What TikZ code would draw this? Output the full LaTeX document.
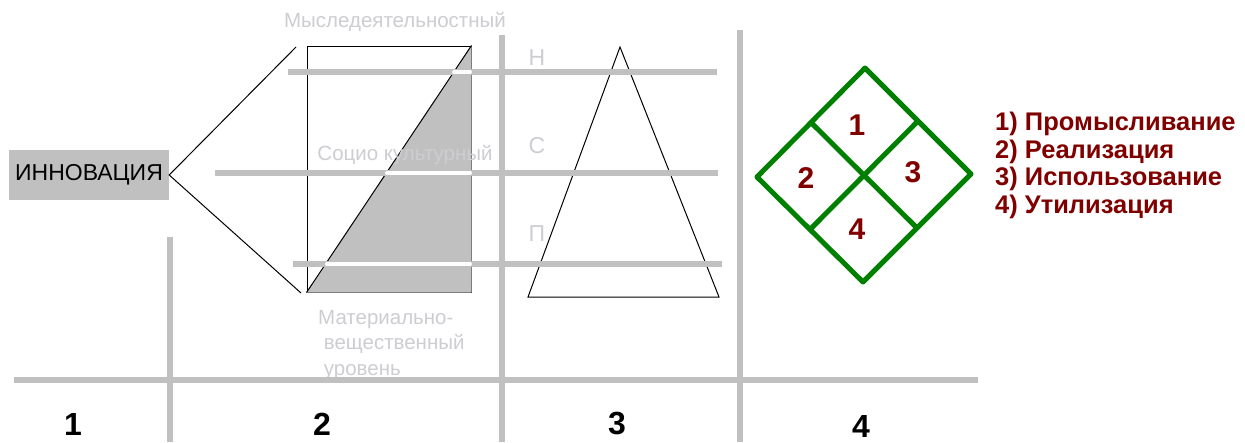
\documentclass[tikz,border=0pt]{standalone}
\usepackage{fontspec}
\setmainfont{Liberation Sans}
\usetikzlibrary{positioning,calc}
\definecolor{gridgray}{RGB}{192,192,192}
\definecolor{lblgray}{RGB}{205,205,210}
\definecolor{phgreen}{RGB}{0,128,0}
\definecolor{phred}{RGB}{128,0,0}
\tikzset{
  gline/.style={line width=6pt, gridgray},
  wline/.style={line width=4pt, white, line cap=round},
  bline/.style={black, line width=1pt},
  glbl/.style={text=lblgray, inner sep=0pt, font=\fontsize{20.5}{25.5}\selectfont},
  colnum/.style={inner sep=0pt, font=\bfseries\fontsize{32}{34}\selectfont},
  phnum/.style={inner sep=0pt, text=phred, font=\bfseries\fontsize{30}{32}\selectfont},
  dline/.style={phgreen, line width=5pt, line join=round},
}

\begin{document}
\begin{tikzpicture}[x=1pt, y=-1pt]
        \useasboundingbox[fill=white] (0,0) rectangle (1245,442);

        % column 1
        \node[fill=gridgray, minimum width=160pt, minimum height=50pt, inner sep=0pt,
              font=\fontsize{23}{24}\selectfont](inno) at (89,175){ИННОВАЦИЯ};

        % column 2
        \node[draw, line width=1pt, minimum width=164pt, minimum height=246pt, inner sep=0pt](lvl) at (389,169){};
        \fill[gridgray] (lvl.south west) -- (lvl.north east) -- (lvl.south east) -- cycle;
        \draw[bline] (lvl.south west) -- (lvl.north east);
        \coordinate (up) at (296,47);
        \coordinate (dn) at (301,293);
        \draw[bline] (up) -- (inno.east) -- (dn);

        \node[glbl](think) at (395,22){Мыследеятельностный};
        \node[glbl](socio) at (405,155){Социо культурный};
        \node[glbl, align=left, anchor=north west](mat) at (318,310){Материально-\\\ вещественный\\\ уровень};

        % column 3
        \coordinate (tA) at (620,47);
        \coordinate (tL) at (528,297);
        \coordinate (tR) at (719,297);
        \draw[bline] (tA) -- (tR) -- (tL) -- cycle;
        \node[glbl, font=\fontsize{23}{24}\selectfont](hN) at (537,58){Н};
        \node[glbl, font=\fontsize{23}{24}\selectfont](hS) at (537,146){С};
        \node[glbl, font=\fontsize{23}{24}\selectfont](hP) at (537,234){П};

        % grid
        \draw[gline] (288,72) -- (717,72);
        \draw[gline] (215,173) -- (718,173);
        \draw[gline] (293,264) -- (722,264);
        \draw[wline] (454,72) -- (470,72);
        \draw[wline] (387,173) -- (470,173);
        \draw[wline] (327,264) -- (470,264);
        \draw[gline] (14,380) -- (978,380);
        \draw[gline] (170,237) -- (170,442);
        \draw[gline] (502,35) -- (502,442);
        \draw[gline] (740,30) -- (740,442);

        \node[colnum](c1) at (73,424){1};
        \node[colnum](c2) at (322,424){2};
        \node[colnum](c3) at (617,424){3};
        \node[colnum](c4) at (861,426){4};

        % column 4
        \coordinate (dT) at (865,68);
        \coordinate (dR) at (971,174);
        \coordinate (dB) at (863,282);
        \coordinate (dL) at (757,177);
        \draw[dline] (dT) -- (dR) -- (dB) -- (dL) -- cycle;
        \draw[dline] ($(dT)!0.5!(dL)$) -- ($(dR)!0.5!(dB)$);
        \draw[dline] ($(dT)!0.5!(dR)$) -- ($(dL)!0.5!(dB)$);
        \node[phnum](p1) at (857,125){1};
        \node[phnum](p2) at (806,178){2};
        \node[phnum](p3) at (913,172){3};
        \node[phnum](p4) at (857,229){4};

        \node[anchor=north west, align=left, inner sep=0pt, text=phred,
              font=\bfseries\fontsize{25.5}{27.5}\selectfont](stages) at (995,112){1) Промысливание\\2) Реализация\\3) Использование\\4) Утилизация};
    \end{tikzpicture}
\end{document}
